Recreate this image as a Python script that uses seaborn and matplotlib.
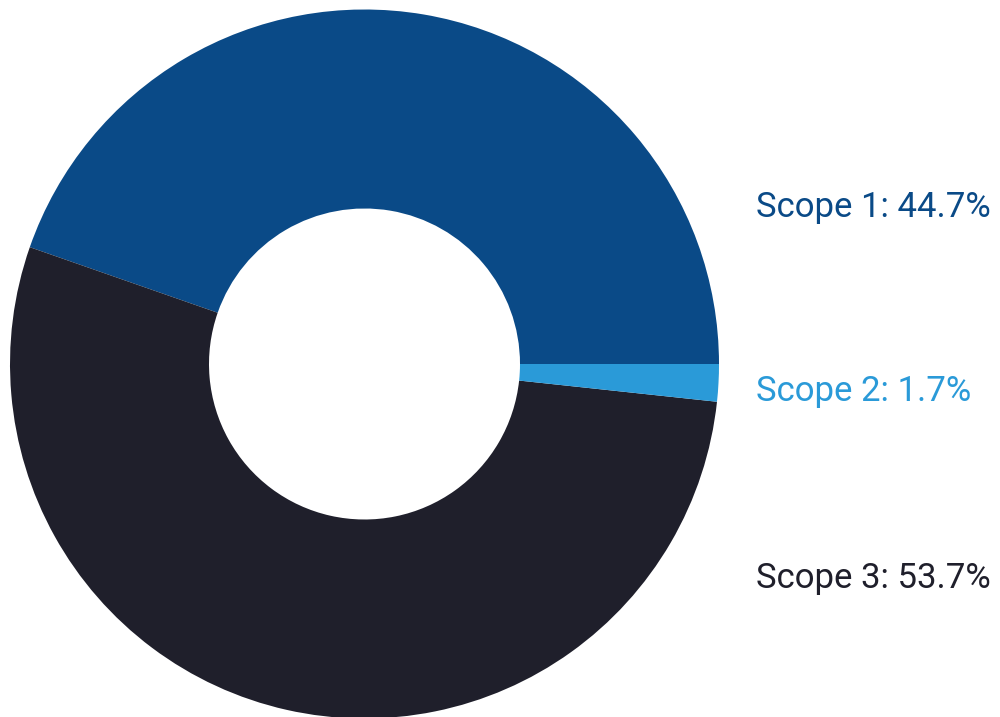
import matplotlib
matplotlib.use("Agg")
import matplotlib.pyplot as plt
import seaborn as sns

# Emissions share by scope
categories = ["Scope 1", "Scope 2", "Scope 3"]
shares = [44.7, 1.7, 53.7]
colors = ["#0A4A87", "#2A9AD8", "#1F1F2B"]

sns.set_theme(style="white")
plt.rcParams["font.family"] = ["Roboto", "DejaVu Sans"]

W, H = 1000, 717
fig = plt.figure(figsize=(W / 100, H / 100), dpi=100)
ax = fig.add_axes([0, 0, 1, 1])

# counter-clockwise from 3 o'clock: Scope 1, Scope 3, Scope 2
order = [0, 2, 1]
cx, cy, r_out, r_in = 364.5, H - 364, 354.5, 155.5
ax.pie([shares[i] for i in order],
       colors=[colors[i] for i in order],
       startangle=0, counterclock=True,
       center=(cx, cy), radius=r_out,
       wedgeprops=dict(width=r_out - r_in, linewidth=0))

ax.set_xlim(0, W)
ax.set_ylim(0, H)
ax.set_aspect("equal")
ax.axis("off")

baselines = [217, 401, 588]
for name, val, col, yb in zip(categories, shares, colors, baselines):
    ax.text(756, H - yb, f"{name}: {val}%", color=col, fontsize=25,
            ha="left", va="baseline")

fig.savefig("out.png", dpi=100)
